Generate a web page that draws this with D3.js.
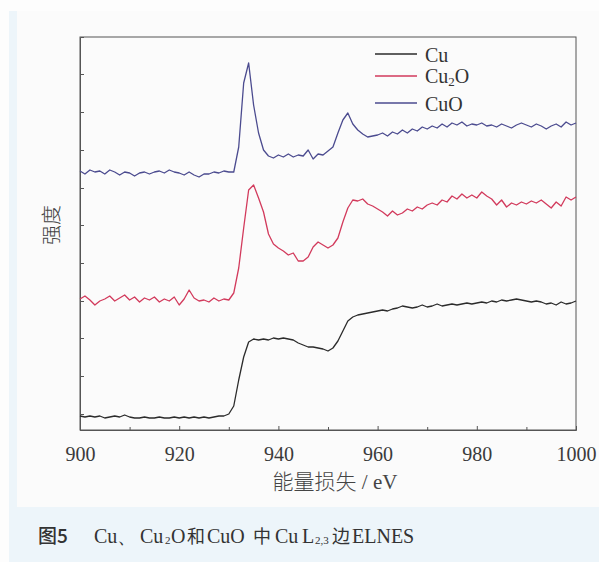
<!DOCTYPE html>
<html><head><meta charset="utf-8">
<script src="https://cdn.jsdelivr.net/npm/d3@7/dist/d3.min.js"></script>
<style>
html,body{margin:0;padding:0;background:#fdfdfd;}
svg{display:block;}
</style></head>
<body>
<svg id="c" width="599" height="562"></svg>
<script>
// Energy grid (eV)
const energy = d3.range(900, 1001, 1);

// Intensity (arbitrary units)
const cuI = [14,13,14,13,14,12,13,14,13,15,13,12,12,13,12,12,13,12,12,13,
 12,13,12,13,12,13,12,13,14,14,16,24,50,73,88,91,90,91,90,92,
 91,92,91,90,87,85,83,83,82,81,79,82,89,99,109,113,115,116,117,118,
 119,120,119,121,122,124,123,122,123,125,123,124,126,124,125,126,125,126,127,126,
 127,128,127,129,128,130,129,130,131,130,129,128,129,128,126,127,125,128,126,127,129];

const cu2oI = [131,134,130,125,129,131,134,129,132,135,130,133,128,132,130,133,128,131,129,133,
 125,131,140,132,129,130,128,132,129,131,130,137,162,202,240,245,232,218,196,186,
 182,179,175,177,169,169,173,183,188,185,182,185,192,208,222,230,229,231,226,224,
 221,218,214,219,215,217,221,219,223,221,225,227,225,230,228,234,231,236,232,235,
 232,238,234,231,225,230,223,227,225,228,226,229,227,230,226,222,228,224,233,230,233];

const cuoI = [259,256,260,258,259,256,260,258,255,258,257,254,257,258,256,258,259,257,260,258,
 257,255,258,255,253,256,256,258,257,259,258,258,283,347,367,325,297,280,274,272,
 275,273,276,273,275,274,280,271,276,275,279,283,297,310,317,306,300,296,293,294,
 295,297,294,298,296,300,297,301,299,303,301,304,302,306,303,307,305,308,304,306,
 305,307,304,305,303,306,304,302,305,307,305,303,306,304,301,304,306,303,308,305,307];

const seriesNames = ["Cu", "Cu2O", "CuO"];
const seriesColors = ["#2b2b2b", "#d23a5c", "#4b4b8f"];
const xTicks = [900, 920, 940, 960, 980, 1000];
const xMinorTicks = [910, 930, 950, 970, 990];
const yTicks = [16, 54, 92, 129, 167, 205, 242, 280, 318, 356];

const SERIF = "'Liberation Serif', 'Times New Roman', serif";
const CJK = "'Noto Sans CJK SC', sans-serif";

const svg = d3.select("#c");
// backgrounds
svg.append("rect").attr("x",9).attr("y",11).attr("width",590).attr("height",551).attr("fill","#edf5fa");
svg.append("rect").attr("x",17).attr("y",11).attr("width",582).attr("height",496).attr("fill","#fbfbfb");

const L = 80, R = 576, T = 37, B = 430;
const x = d3.scaleLinear().domain([900, 1000]).range([L, R]);
const y = d3.scaleLinear().domain([0, 393]).range([B, T]);

// frame
svg.append("rect").attr("x",L).attr("y",T).attr("width",R-L).attr("height",B-T)
  .attr("fill","none").attr("stroke","#555").attr("stroke-width",1);

// bottom axis (ticks inward)
const gx = svg.append("g").attr("transform",`translate(0,${B})`)
  .call(d3.axisBottom(x).tickValues(xTicks).tickSize(-4).tickPadding(17).tickFormat(d3.format("d")));
gx.attr("font-family", null);
gx.select(".domain").attr("stroke","#555");
gx.selectAll(".tick line").attr("stroke","#555");
gx.selectAll("text").style("font-family",SERIF).style("font-size","20px").attr("fill","#3a3a3a");
const gxm = svg.append("g").attr("transform",`translate(0,${B})`)
  .call(d3.axisBottom(x).tickValues(xMinorTicks).tickSize(-3).tickFormat(""));
gxm.select(".domain").remove();
gxm.selectAll(".tick line").attr("stroke","#555");

// left axis (ticks inward, no labels)
const gy = svg.append("g").attr("transform",`translate(${L},0)`)
  .call(d3.axisLeft(y).tickValues(yTicks).tickSize(-4).tickFormat(""));
gy.select(".domain").attr("stroke","#555");
gy.selectAll(".tick line").attr("stroke","#555");

// curves
const line = d3.line().x((d,i)=>x(energy[i])).y(d=>y(d));
[cuI, cu2oI, cuoI].forEach((s,k)=>{
  svg.append("path").datum(s).attr("d",line).attr("fill","none")
    .attr("stroke",seriesColors[k]).attr("stroke-width",1.3).attr("stroke-linejoin","round");
});

// legend
const legY = [54, 76, 103];
const legBase = [62, 83, 111];
seriesNames.forEach((n,k)=>{
  svg.append("line").attr("x1",375).attr("x2",417).attr("y1",legY[k]).attr("y2",legY[k])
    .attr("stroke",seriesColors[k]).attr("stroke-width",1.3);
  const t = svg.append("text").attr("x",425).attr("y",legBase[k])
    .style("font-family",SERIF).style("font-size","20px").attr("fill","#333");
  if (n === "Cu2O") {
    t.append("tspan").text("Cu");
    t.append("tspan").style("font-size","13px").attr("dy",3).text("2");
    t.append("tspan").attr("dy",-3).text("O");
  } else t.text(n);
});

// axis titles
const xt = svg.append("text").attr("x",335).attr("y",489).attr("text-anchor","middle")
  .style("font-size","21px").attr("fill","#444");
xt.append("tspan").style("font-family",CJK).style("font-weight",300).text("能量损失");
xt.append("tspan").style("font-family",SERIF).text(" / eV");

svg.append("text").attr("transform","translate(59,225) rotate(-90)").attr("text-anchor","middle")
  .style("font-family",CJK).style("font-weight",300)
  .style("font-size","20px").attr("fill","#444").text("强度");

// caption, pieces placed as in the reference
const capParts = [
  {t:"图5", x:38, f:CJK, s:19, w:500},
  {t:"Cu、", x:94, f:SERIF, s:20},
  {t:"Cu", x:140, f:SERIF, s:20},
  {t:"2", x:165, f:SERIF, s:11, dy:1},
  {t:"O", x:171, f:SERIF, s:20},
  {t:"和", x:187, f:CJK, s:18},
  {t:"CuO", x:207, f:SERIF, s:20},
  {t:"中", x:253, f:CJK, s:18},
  {t:"Cu", x:275, f:SERIF, s:20},
  {t:"L", x:302, f:SERIF, s:20},
  {t:"2,3", x:315, f:SERIF, s:11, dy:1},
  {t:"边", x:332, f:CJK, s:18},
  {t:"ELNES", x:352, f:SERIF, s:20}
];
const cap = svg.append("text").attr("y",543).attr("fill","#333");
capParts.forEach(p=>{
  cap.append("tspan").attr("x",p.x).attr("y",543 + (p.dy||0))
    .style("font-family",p.f).style("font-size",p.s+"px").style("font-weight",p.w||400).text(p.t);
});
</script>
</body></html>
